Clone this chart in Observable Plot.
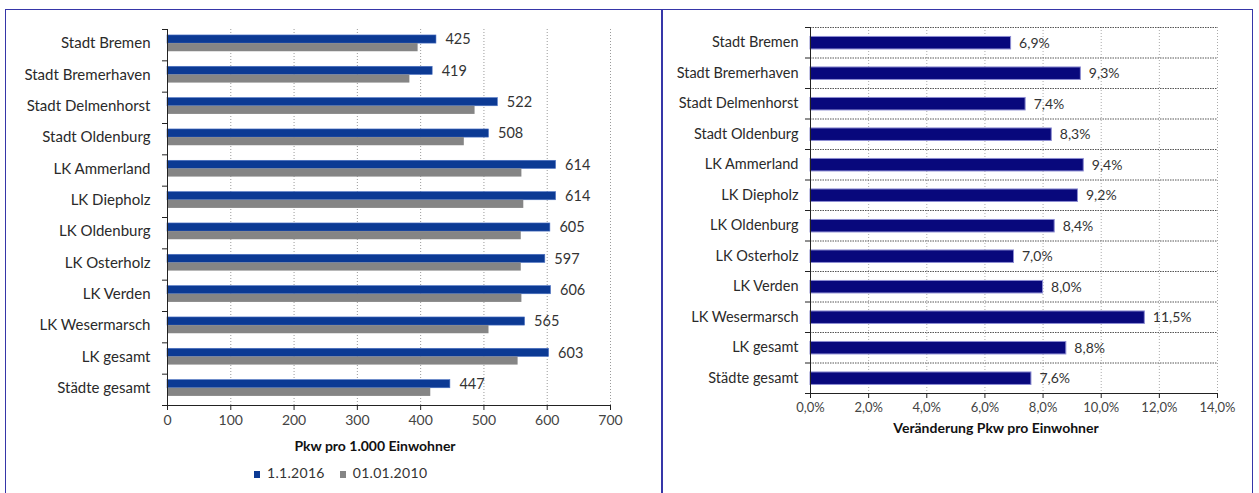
<!DOCTYPE html>
<html>
<head>
<meta charset="utf-8">
<script src="https://cdn.jsdelivr.net/npm/d3@7"></script>
<script src="https://cdn.jsdelivr.net/npm/@observablehq/plot@0.6"></script>
<style>
  html, body { margin: 0; padding: 0; background: #fff; }
  #wrap { position: relative; width: 1259px; height: 493px; overflow: hidden; font-family: Lato, sans-serif; color: #333; }
  #frame { position: absolute; left: 5px; top: 9px; width: 1248px; height: 500px; border: 1.5px solid #3636a8; box-sizing: border-box; }
  #divider { position: absolute; left: 661px; top: 9px; width: 1.5px; height: 490px; background: #3636a8; }
  #left { position: absolute; left: 0; top: 0; }
  #right { position: absolute; left: 662px; top: 0; }
  #legend { position: absolute; left: 254px; top: 464px; display: flex; gap: 15px; font-size: 14px; letter-spacing: 0.3px; color: #333; }
  #legend .item { display: flex; align-items: center; gap: 7px; }
  #legend .sw { width: 6px; height: 7px; display: inline-block; margin-top: 3px; }
</style>
</head>
<body>
<div id="wrap">
  <div id="frame"></div>
  <div id="divider"></div>
  <div id="left"></div>
  <div id="right"></div>
  <div id="legend"></div>
</div>
<script>
// ---- data ----
const regions = ["Stadt Bremen", "Stadt Bremerhaven", "Stadt Delmenhorst", "Stadt Oldenburg", "LK Ammerland", "LK Diepholz", "LK Oldenburg", "LK Osterholz", "LK Verden", "LK Wesermarsch", "LK gesamt", "Städte gesamt"];
const pkw2016 = [425, 419, 522, 508, 614, 614, 605, 597, 606, 565, 603, 447];
const pkw2010 = [396, 383, 486, 469, 560, 563, 559, 559, 560, 508, 554, 416];
const changePct = [6.9, 9.3, 7.4, 8.3, 9.4, 9.2, 8.4, 7.0, 8.0, 11.5, 8.8, 7.6];
const seriesNames = ["1.1.2016", "01.01.2010"];
const seriesColors = ["#0c3a94", "#858585"];
const leftTicks = [0, 100, 200, 300, 400, 500, 600, 700];
const rightTicks = [0, 2, 4, 6, 8, 10, 12, 14];
const leftTitle = "Pkw pro 1.000 Einwohner";
const rightTitle = "Veränderung Pkw pro Einwohner";

const rows = regions.map((name, i) => ({name, i, v2016: pkw2016[i], v2010: pkw2010[i], pct: changePct[i]}));
const bandEdges = d3.range(regions.length + 1);
const bandMids = d3.range(regions.length);
const nameOf = v => regions[Math.floor(v)] ?? "";

// ---- left chart ----
const left = Plot.plot({
  width: 660, height: 462,
  marginLeft: 167, marginRight: 50, marginTop: 29, marginBottom: 57,
  style: {fontFamily: "Lato, sans-serif", color: "#333", background: "transparent"},
  x: {domain: [0, 700]},
  y: {domain: [0, regions.length], reverse: true},
  marks: [
    Plot.ruleX(leftTicks.filter(d => d > 0), {stroke: "#9a9a9a", strokeDasharray: "1,2", strokeWidth: 1}),
    Plot.rect(rows, {x1: () => 0, x2: "v2016", y1: r => r.i + 0.19, y2: r => r.i + 0.45, fill: seriesColors[0], stroke: "#4f74c4", strokeWidth: 0.6}),
    Plot.rect(rows, {x1: () => 0, x2: "v2010", y1: r => r.i + 0.45, y2: r => r.i + 0.71, fill: seriesColors[1]}),
    Plot.text(rows, {x: "v2016", y: r => r.i + 0.32, text: r => String(r.v2016), dx: 9, textAnchor: "start", fontSize: 14.5, fill: "#333"}),
    Plot.ruleX([0], {stroke: "#222", strokeWidth: 1}),
    Plot.ruleY([regions.length], {stroke: "#222", strokeWidth: 1}),
    Plot.axisY(bandEdges, {tickSize: 5, tickFormat: () => "", label: null, stroke: "#222"}),
    Plot.axisY(bandMids.map(i => i + 0.45), {tickSize: 0, tickPadding: 17, tickFormat: nameOf, label: null, fontSize: 15, fill: "#2a2a2a"}),
    Plot.axisX(leftTicks, {tickSize: 5, tickPadding: 5, label: null, fontSize: 14, fill: "#444", stroke: "#222"}),
    Plot.text([leftTitle], {text: d => d, frameAnchor: "bottom", dy: 45, dx: -14, fontWeight: "bold", fontSize: 14, fill: "#111"})
  ]
});
document.getElementById("left").appendChild(left);

// ---- legend ----
const legend = d3.select("#legend");
seriesNames.forEach((s, k) => {
  const it = legend.append("div").attr("class", "item");
  it.append("span").attr("class", "sw").style("background", seriesColors[k]);
  it.append("span").text(s);
});

// ---- right chart ----
const fmtPct = d => d.toFixed(1).replace(".", ",") + "%";
const right = Plot.plot({
  width: 597, height: 445,
  marginLeft: 148, marginRight: 42, marginTop: 27, marginBottom: 52,
  style: {fontFamily: "Lato, sans-serif", color: "#333", background: "transparent"},
  x: {domain: [0, 14]},
  y: {domain: [0, regions.length], reverse: true},
  marks: [
    Plot.ruleX(rightTicks.filter(d => d > 0), {stroke: "#aaa", strokeDasharray: "1,2", strokeWidth: 1}),
    Plot.ruleY(bandEdges.slice(0, -1), {stroke: "#555", strokeDasharray: "1.5,1", strokeWidth: 1}),
    Plot.rect(rows, {x1: () => 0, x2: "pct", y1: r => r.i + 0.31, y2: r => r.i + 0.72, fill: "#08087c", stroke: "#8c8cd2", strokeWidth: 1}),
    Plot.text(rows, {x: "pct", y: r => r.i + 0.52, text: r => fmtPct(r.pct), dx: 8, textAnchor: "start", fontSize: 14, fill: "#333"}),
    Plot.ruleX([0], {stroke: "#222", strokeWidth: 1}),
    Plot.ruleY([regions.length], {stroke: "#222", strokeWidth: 1}),
    Plot.axisY(bandEdges, {tickSize: 5, tickFormat: () => "", label: null, stroke: "#222"}),
    Plot.axisY(bandMids.map(i => i + 0.5), {tickSize: 0, tickPadding: 12, tickFormat: nameOf, label: null, fontSize: 14.5, fill: "#2a2a2a"}),
    Plot.axisX(rightTicks, {tickSize: 5, tickPadding: 4, tickFormat: fmtPct, label: null, fontSize: 13, fill: "#444", stroke: "#222"}),
    Plot.text([rightTitle], {text: d => d, frameAnchor: "bottom", dy: 39, dx: -18, fontWeight: "bold", fontSize: 14, fill: "#111"})
  ]
});
document.getElementById("right").appendChild(right);
</script>
</body>
</html>
